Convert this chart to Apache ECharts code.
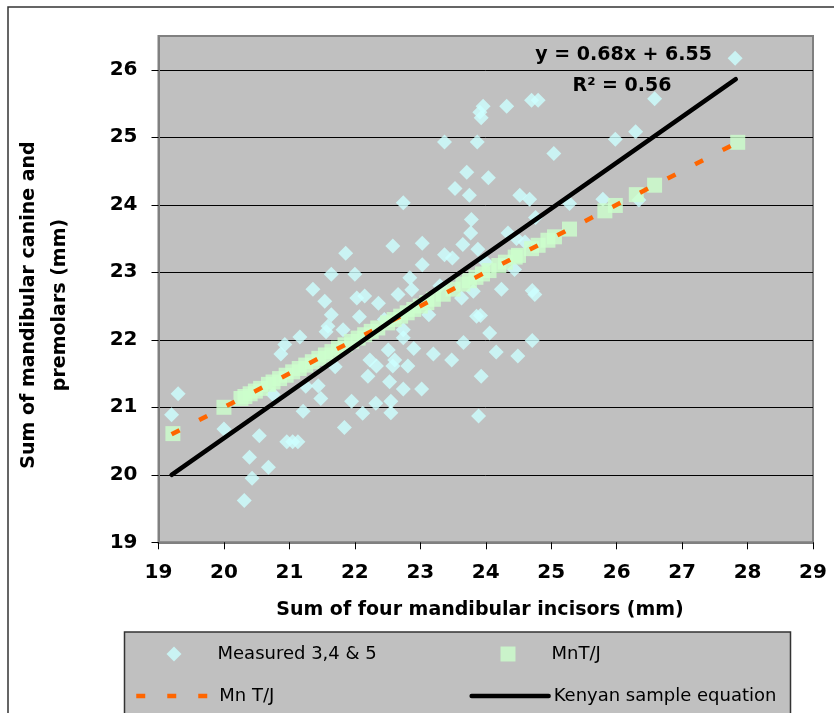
<!DOCTYPE html>
<html><head><meta charset="utf-8">
<script src="https://cdn.jsdelivr.net/npm/echarts@6/dist/echarts.min.js"></script>
<style>html,body{margin:0;padding:0;background:#fff}#c{width:834px;height:713px}</style>
</head><body><div id="c"></div>
<script>
// ---- data ----
const xRange = [19, 29];
const yRange = [19, 26.5];
const tickStep = 1;

const measured = [
[19.20,20.89],[19.30,21.20],[20.00,20.68],[20.31,19.62],[20.39,20.26],[20.43,19.95],[20.54,20.58],[20.68,20.11],
[20.75,21.19],[20.87,21.79],[20.93,21.93],[20.96,20.49],[21.05,20.49],[21.13,20.49],[21.16,22.04],[21.21,20.94],
[21.25,21.31],[21.44,21.32],[21.48,21.13],[21.56,22.12],[21.84,20.70],[21.95,21.09],[22.12,20.91],[22.32,21.06],
[22.55,21.09],[22.55,20.92],[22.20,21.46],[22.53,21.38],[22.74,21.27],[23.02,21.27],[22.81,21.61],[22.58,21.61],
[22.33,21.61],[22.23,21.70],[22.61,21.70],[22.51,21.85],[22.90,21.87],[23.20,21.79],[23.48,21.70],[23.66,21.96],
[24.06,22.10],[24.16,21.82],[24.49,21.76],[24.71,21.99],[23.93,21.46],[23.89,20.87],[22.74,22.03],[22.74,24.03],
[23.53,24.24],[23.75,24.14],[23.78,23.78],[23.77,23.58],[23.65,23.41],[23.37,23.26],[23.49,23.21],[23.03,23.43],
[22.58,23.39],[21.86,23.28],[23.03,23.11],[21.64,22.97],[22.00,22.97],[21.36,22.75],[22.84,22.92],[22.87,22.74],
[22.66,22.67],[22.15,22.65],[22.03,22.62],[21.54,22.57],[22.36,22.54],[21.64,22.37],[22.07,22.34],[21.59,22.20],
[22.74,22.15],[21.82,22.15],[23.13,22.37],[23.81,22.72],[23.86,22.35],[23.63,22.62],[24.52,24.14],[24.67,24.08],
[25.28,24.02],[24.76,23.81],[24.34,23.58],[24.47,23.50],[23.88,23.34],[24.24,22.75],[24.71,22.73],[24.75,22.67],
[23.92,22.36],[24.44,23.04],[23.96,25.46],[23.91,25.37],[23.93,25.29],[24.32,25.46],[24.70,25.55],[24.80,25.55],
[23.37,24.93],[23.87,24.93],[25.04,24.76],[23.71,24.48],[24.04,24.40],[27.81,26.17],[26.58,25.57],[25.98,24.97],
[26.29,25.08],[25.79,24.08],[26.34,24.07],[21.70,21.60],[22.45,22.30],[23.30,22.80],[24.00,23.15],[24.60,23.45]
];

const mntj = [
[19.22,20.61],[20.00,21.00],[20.26,21.13],[20.32,21.16],[20.40,21.20],[20.48,21.24],[20.56,21.28],[20.68,21.34],
[20.75,21.375],[20.85,21.425],[20.95,21.475],[21.05,21.525],[21.15,21.575],[21.25,21.625],[21.35,21.675],[21.45,21.725],
[21.55,21.775],[21.65,21.825],[21.75,21.875],[21.85,21.925],[21.95,21.975],[22.05,22.025],[22.15,22.075],[22.25,22.125],
[22.35,22.175],[22.50,22.25],[22.60,22.30],[22.70,22.35],[22.80,22.40],[22.90,22.45],[23.00,22.50],[23.10,22.55],
[23.20,22.60],[23.35,22.675],[23.50,22.75],[23.65,22.825],[23.75,22.875],[23.85,22.925],[23.95,22.975],[24.05,23.025],
[24.20,23.10],[24.30,23.15],[24.45,23.225],[24.50,23.25],[24.70,23.35],[24.80,23.40],[24.95,23.475],[25.05,23.525],
[25.28,23.64],[25.82,23.91],[25.98,23.99],[26.30,24.15],[26.58,24.29],[27.85,24.925]
];

const mnTJLine = [[19.20,20.60],[27.85,24.925]];
const kenyanLine = [[19.20,20.00],[27.82,25.86]];

const seriesNames = ['Measured 3,4 & 5','MnT/J','Mn T/J','Kenyan sample equation'];
const eqText = 'y = 0.68x + 6.55';
const r2Text = 'R² = 0.56';
const xTitle = 'Sum of four mandibular incisors (mm)';
const yTitle = 'Sum of mandibular canine and\npremolars (mm)';

// ---- chart ----
const FF = 'DejaVu Sans';
const chart = echarts.init(document.getElementById('c'), null, {renderer:'canvas'});
const legendText = {fontFamily: FF, fontSize: 18, color: '#000'};
const legendTextPad = {fontFamily: FF, fontSize: 18, color: '#000', padding: [0, 0, 0, 31]};
const option = {
  animation: false,
  backgroundColor: '#fff',
  grid: {left: 158.5, right: 21, top: 36, bottom: 170.7, show: true,
         backgroundColor: '#c0c0c0', borderColor: '#808080', borderWidth: 2},
  xAxis: {type: 'value', min: xRange[0], max: xRange[1], interval: tickStep,
    axisLine: {show: true, lineStyle: {color: '#808080', width: 2}},
    axisTick: {show: true, inside: false, length: 7, lineStyle: {color: '#000', width: 1}},
    splitLine: {show: false},
    axisLabel: {margin: 20, fontFamily: FF, fontWeight: 'bold', fontSize: 20, color: '#000'}},
  yAxis: {type: 'value', min: yRange[0], max: yRange[1], interval: tickStep,
    axisLine: {show: true, lineStyle: {color: '#808080', width: 2}},
    axisTick: {show: true, inside: false, length: 7, lineStyle: {color: '#000', width: 1}},
    splitLine: {show: true, showMinLine: false, showMaxLine: false, lineStyle: {color: '#000', width: 1}},
    axisLabel: {margin: 21, fontFamily: FF, fontWeight: 'bold', fontSize: 20, color: '#000',
      showMaxLabel: false,
      formatter: v => (Number.isInteger(v) ? String(v) : '')}},
  legend: [
    {data: [{name: seriesNames[0], icon: 'diamond'}], left: 166.5, top: 645, itemWidth: 15, itemHeight: 15, padding: 0,
     selectedMode: false, textStyle: legendTextPad},
    {data: [{name: seriesNames[1], icon: 'rect'}], left: 500.5, top: 645, itemWidth: 15, itemHeight: 15, padding: 0,
     selectedMode: false, textStyle: legendTextPad},
    {data: [seriesNames[2]], left: 134, top: 687, itemWidth: 78, itemHeight: 15, padding: 0,
     selectedMode: false, textStyle: legendText, lineStyle: {width: 4.5}, itemStyle: {opacity: 0}},
    {data: [seriesNames[3]], left: 469.4, top: 687, itemWidth: 77, itemHeight: 15, padding: 0,
     selectedMode: false, textStyle: legendText, lineStyle: {width: 4.5}, itemStyle: {opacity: 0}}
  ],
  graphic: [
    {type: 'rect', z: -1, silent: true, shape: {x: 8, y: 7, width: 840, height: 720},
     style: {fill: 'none', stroke: '#333', lineWidth: 1.5}},
    {type: 'rect', z: 0, silent: true, shape: {x: 124.5, y: 632, width: 666, height: 100},
     style: {fill: '#c0c0c0', stroke: '#333', lineWidth: 1.5}},
    {type: 'text', z: 10, silent: true, x: 480, y: 610,
     style: {text: xTitle, fontFamily: FF, fontWeight: 'bold', fontSize: 19, fill: '#000',
             textAlign: 'center', textVerticalAlign: 'middle'}},
    {type: 'text', z: 10, silent: true, x: 45, y: 305, rotation: Math.PI / 2,
     style: {text: yTitle, fontFamily: FF, fontWeight: 'bold', fontSize: 19, lineHeight: 31, fill: '#000',
             textAlign: 'center', textVerticalAlign: 'middle'}},
    {type: 'text', z: 100, silent: true, x: 712, y: 55,
     style: {text: eqText, fontFamily: FF, fontWeight: 'bold', fontSize: 19, fill: '#000',
             textAlign: 'right', textVerticalAlign: 'middle'}},
    {type: 'text', z: 100, silent: true, x: 622, y: 86,
     style: {text: r2Text, fontFamily: FF, fontWeight: 'bold', fontSize: 19, fill: '#000',
             textAlign: 'center', textVerticalAlign: 'middle'}}
  ],
  series: [
    {type: 'scatter', name: seriesNames[0], data: measured, symbol: 'diamond', symbolSize: 15,
     itemStyle: {color: '#ccffff'}, silent: true},
    {type: 'scatter', name: seriesNames[1], data: mntj, symbol: 'rect', symbolSize: 15,
     itemStyle: {color: '#ccffcc'}, silent: true},
    {type: 'line', name: seriesNames[2], data: mnTJLine, symbol: 'none', showSymbol: false, silent: true,
     itemStyle: {color: '#ff6600'},
     lineStyle: {color: '#ff6600', width: 4.5, type: [9, 22], cap: 'butt'}},
    {type: 'line', name: seriesNames[3], data: kenyanLine, symbol: 'none', showSymbol: false, silent: true,
     itemStyle: {color: '#000'},
     lineStyle: {color: '#000', width: 4.5, cap: 'round'}}
  ]
};
chart.setOption(option);
</script>
</body></html>
